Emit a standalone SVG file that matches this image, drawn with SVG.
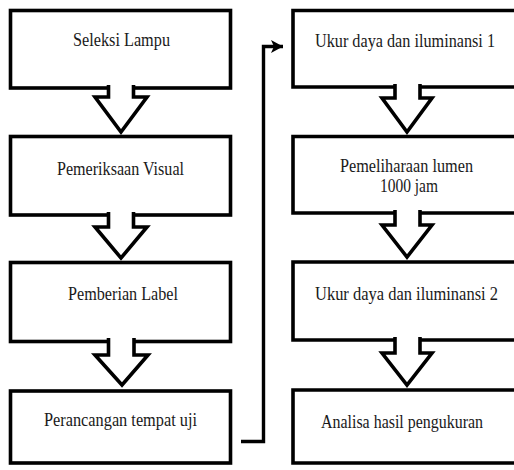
<svg xmlns="http://www.w3.org/2000/svg" width="514" height="470" viewBox="0 0 514 470">
<style>
.box{fill:#fff;stroke:#000;stroke-width:3.6}
.blk{fill:#fff;stroke:#000;stroke-width:3.6;stroke-linejoin:miter}
.con{fill:none;stroke:#000;stroke-width:3.4}
text{font-family:"Liberation Serif","Times New Roman",serif;font-size:19px;fill:#1a1a1a;text-anchor:middle}
.sm{font-size:18px}
</style>
<defs>
<marker id="ah" markerUnits="userSpaceOnUse" markerWidth="14" markerHeight="16" refX="12" refY="8" orient="auto">
<path d="M0,1.5 L12,8 L0,14.5 L3,8 Z" fill="#000"/>
</marker>
</defs>
<rect width="514" height="470" fill="#fff"/>
<g id="n1"><rect class="box" x="10.5" y="10.5" width="220" height="77.5"/><text x="121.5" y="46" textLength="97" lengthAdjust="spacingAndGlyphs">Seleksi Lampu</text></g>
<g id="n2"><rect class="box" x="10.5" y="136.5" width="220" height="78.5"/><text x="120.5" y="175" textLength="127" lengthAdjust="spacingAndGlyphs">Pemeriksaan Visual</text></g>
<g id="n3"><rect class="box" x="10.5" y="262.5" width="220" height="79"/><text x="123" y="300" textLength="110" lengthAdjust="spacingAndGlyphs">Pemberian Label</text></g>
<g id="n4"><rect class="box" x="10.5" y="391" width="220" height="72"/><text x="120.5" y="426" textLength="153" lengthAdjust="spacingAndGlyphs">Perancangan tempat uji</text></g>
<g id="n5"><path class="box" d="M515,10.5 H293 V87 H515"/><text class="sm" x="405" y="46.5" textLength="180" lengthAdjust="spacingAndGlyphs">Ukur daya dan iluminansi 1</text></g>
<g id="n6"><path class="box" d="M515,136.5 H293 V213 H515"/><text x="406.5" y="171.5" textLength="133" lengthAdjust="spacingAndGlyphs">Pemeliharaan lumen</text><text x="409" y="191.5" textLength="58" lengthAdjust="spacingAndGlyphs">1000 jam</text></g>
<g id="n7"><path class="box" d="M515,262 H293 V340 H515"/><text class="sm" x="406.5" y="300" textLength="183" lengthAdjust="spacingAndGlyphs">Ukur daya dan iluminansi 2</text></g>
<g id="n8"><path class="box" d="M515,390 H293 V463 H515"/><text x="402" y="428" textLength="162" lengthAdjust="spacingAndGlyphs">Analisa hasil pengukuran</text></g>
<g id="connectors">
<path class="blk" d="M108.5,85 V97 H95 L121,132 L147,97 H133.5 V85"/>
<path class="blk" d="M108.5,212 V227 H95 L121,258 L147,227 H133.5 V212"/>
<path class="blk" d="M108.5,338 V355 H95 L122,385 L148,355 H134 V338"/>
<path class="blk" d="M395,84 V98 H382 L407,132 L432,98 H420 V84"/>
<path class="blk" d="M395,210 V225 H382 L407,257 L432,225 H420 V210"/>
<path class="blk" d="M395,337 V353 H382 L407,385 L432,353 H420 V337"/>
<path class="con" d="M241,441.5 H263.5 V46.5 H283" marker-end="url(#ah)"/>
</g>
</svg>
